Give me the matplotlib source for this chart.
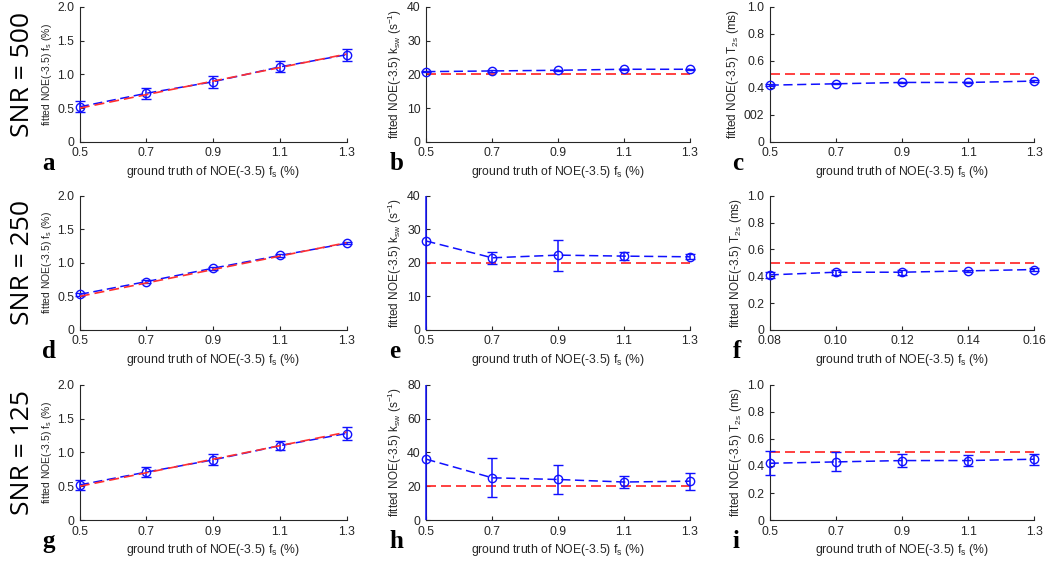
import numpy as np
import matplotlib
matplotlib.use("Agg")
import matplotlib.pyplot as plt
from matplotlib.transforms import Bbox, TransformedBbox

plt.rcParams['font.family'] = ['Liberation Sans', 'DejaVu Sans']
plt.rcParams['mathtext.default'] = 'regular'

# ground truth fs values
fs_true = [0.5, 0.7, 0.9, 1.1, 1.3]
fs_true_f = [0.08, 0.10, 0.12, 0.14, 0.16]

# SNR = 500
a_mean = [0.52, 0.72, 0.89, 1.11, 1.29]
a_err = [0.08, 0.08, 0.09, 0.08, 0.09]
b_mean = [20.8, 21.0, 21.2, 21.5, 21.5]
b_err = [0.2, 0.2, 0.2, 0.2, 0.2]
c_mean = [0.42, 0.43, 0.44, 0.44, 0.45]
c_err = [0.005, 0.005, 0.005, 0.005, 0.005]

# SNR = 250
d_mean = [0.53, 0.72, 0.92, 1.11, 1.29]
d_err = [0.02, 0.02, 0.02, 0.02, 0.015]
e_mean = [26.5, 21.5, 22.3, 22.0, 21.8]
e_err = [30.0, 1.8, 4.6, 1.2, 0.8]
f_mean = [0.41, 0.43, 0.43, 0.44, 0.45]
f_err = [0.02, 0.02, 0.02, 0.01, 0.01]

# SNR = 125
g_mean = [0.52, 0.71, 0.89, 1.10, 1.28]
g_err = [0.07, 0.08, 0.08, 0.07, 0.10]
h_mean = [36.0, 25.0, 24.0, 22.5, 23.0]
h_err = [50.0, 11.5, 8.5, 3.5, 5.0]
i_mean = [0.42, 0.43, 0.44, 0.44, 0.45]
i_err = [0.09, 0.07, 0.05, 0.04, 0.04]

snr_labels = ['SNR = 500', 'SNR = 250', 'SNR = 125']
letters = ['a', 'b', 'c', 'd', 'e', 'f', 'g', 'h', 'i']

xlab = 'ground truth of NOE(-3.5) f$_s$ (%)'
ylab_fs = 'fitted NOE(-3.5) f$_s$ (%)'
ylab_k = 'fitted NOE(-3.5) k$_{sw}$ (s$^{-1}$)'
ylab_t = 'fitted NOE(-3.5) T$_{2s}$ (ms)'

panels = [
    (fs_true, a_mean, a_err, 'fs'),
    (fs_true, b_mean, b_err, 20),
    (fs_true, c_mean, c_err, 0.5),
    (fs_true, d_mean, d_err, 'fs'),
    (fs_true, e_mean, e_err, 20),
    (fs_true_f, f_mean, f_err, 0.5),
    (fs_true, g_mean, g_err, 'fs'),
    (fs_true, h_mean, h_err, 20),
    (fs_true, i_mean, i_err, 0.5),
]

row_pos = [(0.747, 0.241), (0.412, 0.239), (0.073, 0.241)]
col_pos = [(0.076, 0.254), (0.406, 0.251), (0.733, 0.252)]

fig = plt.figure(figsize=(10.5, 5.61), dpi=100)
gray = '#262626'
dash = (6, 3)

for k, (x, m, e, ref) in enumerate(panels):
    r, c = divmod(k, 3)
    ax = fig.add_axes([col_pos[c][0], row_pos[r][0], col_pos[c][1], row_pos[r][1]])
    if ref == 'fs':
        ax.plot(x, x, '--', color='#ff3030', lw=1.2, dashes=dash, zorder=4)
    else:
        ax.plot(x, [ref] * len(x), '--', color='#ff2020', lw=1.2, dashes=dash, zorder=2)
    eb = ax.errorbar(x, m, yerr=e, fmt='o--', color='#1010ff', mfc='none', ms=6,
                     lw=1.1, capsize=3.5, elinewidth=1.1, zorder=3)
    eb[0].set_dashes(dash)

    # let markers / error bars poke out sideways past the axes edge, clip only in y
    clipbox = TransformedBbox(Bbox([[-0.03, 0.0], [1.03, 1.0]]), ax.transAxes)
    for art in [eb[0]] + list(eb[1]) + list(eb[2]):
        art.set_clip_box(clipbox)

    ax.set_xlim(x[0], x[-1])
    ax.set_xticks(x)
    if c == 2 and r == 1:
        ax.set_xticklabels(['%.2f' % v for v in x])
    else:
        ax.set_xticklabels(['%.1f' % v for v in x])

    if c == 0:
        ax.set_ylim(0, 2)
        ax.set_yticks([0, 0.5, 1.0, 1.5, 2.0])
        ax.set_yticklabels(['0', '0.5', '1.0', '1.5', '2.0'])
        ax.set_ylabel(ylab_fs, fontsize=7.5, color=gray, labelpad=2)
    elif c == 1:
        top = 80 if r == 2 else 40
        ax.set_ylim(0, top)
        ax.set_yticks(np.arange(0, top + 1, top // 4))
        ax.set_ylabel(ylab_k, fontsize=8.5, color=gray, labelpad=2)
    else:
        ax.set_ylim(0, 1)
        ax.set_yticks([0, 0.2, 0.4, 0.6, 0.8, 1.0])
        yl = ['0', '0.2', '0.4', '0.6', '0.8', '1.0']
        if r == 0:
            yl[1] = '002'
        ax.set_yticklabels(yl)
        ax.set_ylabel(ylab_t, fontsize=8.5, color=gray, labelpad=2)

    ax.set_xlabel(xlab, fontsize=8.8, color=gray, labelpad=3)
    ax.spines['top'].set_visible(False)
    ax.spines['right'].set_visible(False)
    for s in ['left', 'bottom']:
        ax.spines[s].set_color(gray)
        ax.spines[s].set_linewidth(0.8)
        ax.spines[s].set_zorder(2.5)
    ax.tick_params(direction='in', length=3, width=0.8, labelsize=8.8,
                   colors=gray, pad=4)

    # panel letter
    ax.text(-0.14, -0.16, letters[k], transform=ax.transAxes, fontsize=18,
            fontweight='bold', family='Liberation Serif', va='center', ha='left')

    if c == 0:
        ax.text(-0.215, 0.5, snr_labels[r], transform=ax.transAxes, fontsize=19,
                rotation=90, va='center', ha='center', family='Open Sans')

fig.savefig('out.png', dpi=100)
